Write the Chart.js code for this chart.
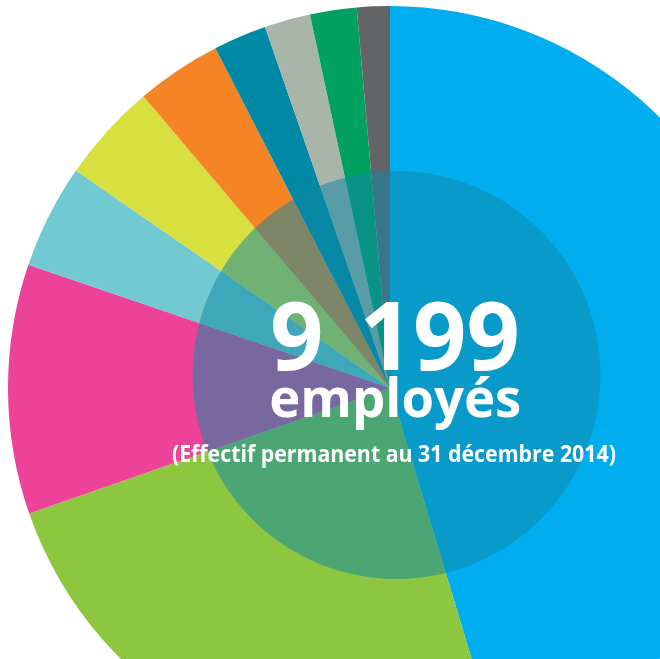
<!DOCTYPE html>
<html><head><meta charset="utf-8">
<script src="https://cdn.jsdelivr.net/npm/chart.js@4.4.1/dist/chart.umd.min.js"></script>
<style>
html,body{margin:0;padding:0;background:#fff;width:660px;height:659px;overflow:hidden;position:relative}
#wrap{position:absolute;left:8px;top:6px;width:764px;height:764px}
.t{position:absolute;left:0;top:0;color:#fff;font-family:"Open Sans",sans-serif;font-weight:700;white-space:nowrap;line-height:1;transform-origin:center center}
#big{font-size:95px;word-spacing:12px}
#emp{font-size:54px}
#sub{font-size:24px}
</style></head>
<body>
<div id="wrap"><canvas id="c" width="764" height="764"></canvas></div>
<div class="t" id="big">9 199</div>
<div class="t" id="emp">employés</div>
<div class="t" id="sub">(Effectif permanent au 31 décembre 2014)</div>
<script>
const categories = ["Catégorie A","Catégorie B","Catégorie C","Catégorie D","Catégorie E","Catégorie F","Catégorie G","Catégorie H","Catégorie I","Catégorie J"];
const employees = [4171, 2238, 971, 406, 386, 332, 207, 179, 181, 128];
const colors = ["#00AEEF","#8DC63F","#EC4399","#71C9D2","#D7E03E","#F58424","#0089A5","#A8B5A8","#00A060","#636466"];

const overlayPlugin = {
  id: 'overlay',
  afterDatasetsDraw(chart){
    const arc = chart.getDatasetMeta(0).data[0];
    const ctx = chart.ctx;
    const r = arc.outerRadius;
    ctx.save();
    ctx.fillStyle = 'rgba(15,136,165,0.52)';
    ctx.beginPath();
    ctx.arc(arc.x + r*0.017, arc.y - r*0.034, r*0.534, 0, Math.PI*2);
    ctx.fill();
    ctx.restore();
  }
};

new Chart(document.getElementById('c'), {
  type: 'pie',
  data: { labels: categories, datasets: [{ data: employees, backgroundColor: colors, borderWidth: 0, hoverOffset: 0, offset: 0 }] },
  options: {
    responsive: false, animation: false,
    layout: { padding: 0 },
    plugins: { legend: { display: false }, tooltip: { enabled: false } }
  },
  plugins: [overlayPlugin]
});

function place(id, cx, top, w){
  const el = document.getElementById(id);
  const r = el.getBoundingClientRect();
  el.style.left = (cx - r.width/2) + 'px';
  el.style.top = top + 'px';
  el.style.transform = 'scaleX(' + (w / r.width) + ')';
}
place('big', 395, 286, 250);
place('emp', 395, 369, 252);
place('sub', 394, 441, 444);
</script>
</body></html>
